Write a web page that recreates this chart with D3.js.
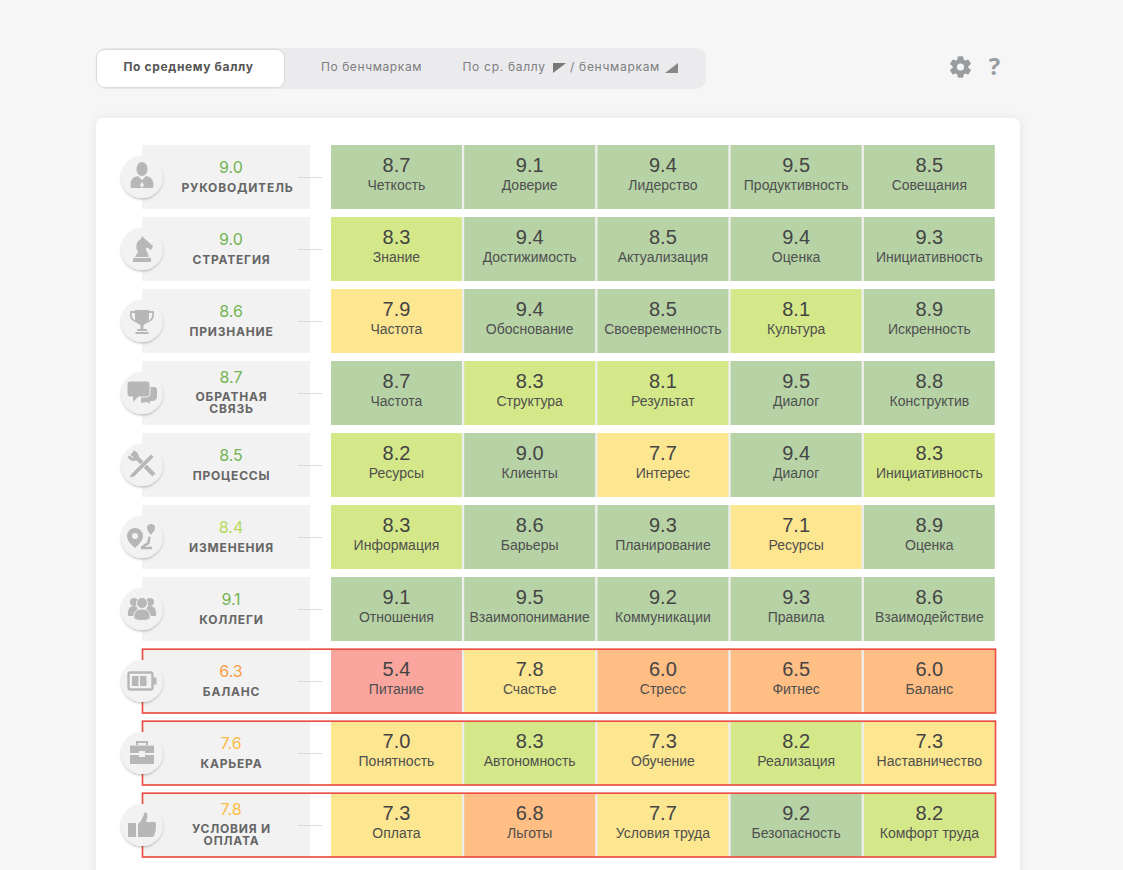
<!DOCTYPE html>
<html><head><meta charset="utf-8">
<script src="https://cdn.jsdelivr.net/npm/d3@7"></script>
<style>html,body{margin:0;padding:0;background:#f6f6f6;overflow:hidden}svg{display:block}</style>
</head><body><div id="c"></div>
<script>
const groupLabels=[["РУКОВОДИТЕЛЬ"],["СТРАТЕГИЯ"],["ПРИЗНАНИЕ"],["ОБРАТНАЯ","СВЯЗЬ"],["ПРОЦЕССЫ"],["ИЗМЕНЕНИЯ"],["КОЛЛЕГИ"],["БАЛАНС"],["КАРЬЕРА"],["УСЛОВИЯ И","ОПЛАТА"]];
const groupScores=[9.0,9.0,8.6,8.7,8.5,8.4,9.1,6.3,7.6,7.8];
const itemNames=[
["Четкость","Доверие","Лидерство","Продуктивность","Совещания"],
["Знание","Достижимость","Актуализация","Оценка","Инициативность"],
["Частота","Обоснование","Своевременность","Культура","Искренность"],
["Частота","Структура","Результат","Диалог","Конструктив"],
["Ресурсы","Клиенты","Интерес","Диалог","Инициативность"],
["Информация","Барьеры","Планирование","Ресурсы","Оценка"],
["Отношения","Взаимопонимание","Коммуникации","Правила","Взаимодействие"],
["Питание","Счастье","Стресс","Фитнес","Баланс"],
["Понятность","Автономность","Обучение","Реализация","Наставничество"],
["Оплата","Льготы","Условия труда","Безопасность","Комфорт труда"]];
const itemValues=[
[8.7,9.1,9.4,9.5,8.5],
[8.3,9.4,8.5,9.4,9.3],
[7.9,9.4,8.5,8.1,8.9],
[8.7,8.3,8.1,9.5,8.8],
[8.2,9.0,7.7,9.4,8.3],
[8.3,8.6,9.3,7.1,8.9],
[9.1,9.5,9.2,9.3,8.6],
[5.4,7.8,6.0,6.5,6.0],
[7.0,8.3,7.3,8.2,7.3],
[7.3,6.8,7.7,9.2,8.2]];
const flaggedRows=[7,8,9];
const tabs=["По среднему баллу","По бенчмаркам"];

const W=1123,H=870;
const svg=d3.select("#c").append("svg").attr("width",W).attr("height",H);
const defs=svg.append("defs");
const f1=defs.append("filter").attr("id","card").attr("x","-5%").attr("y","-5%").attr("width","110%").attr("height","110%");
f1.append("feDropShadow").attr("dx",0).attr("dy",0).attr("stdDeviation",5).attr("flood-color","#000").attr("flood-opacity",.07);
const f2=defs.append("filter").attr("id","circ").attr("x","-30%").attr("y","-30%").attr("width","160%").attr("height","160%");
f2.append("feDropShadow").attr("dx",0).attr("dy",1.5).attr("stdDeviation",1.2).attr("flood-color","#000").attr("flood-opacity",.22);
const f3=defs.append("filter").attr("id","tab").attr("x","-5%").attr("y","-20%").attr("width","110%").attr("height","140%");
f3.append("feDropShadow").attr("dx",0).attr("dy",0).attr("stdDeviation",1.2).attr("flood-color","#000").attr("flood-opacity",.2);

const UI="Inter, 'Noto Sans', sans-serif";
const CELL="'Liberation Sans', Arial, sans-serif";

svg.append("rect").attr("width",W).attr("height",H).attr("fill","#f6f6f6");

// tabs
svg.append("rect").attr("x",96).attr("y",48).attr("width",610).attr("height",41).attr("rx",10).attr("fill","#ebebed");
svg.append("rect").attr("x",97).attr("y",50).attr("width",187).attr("height",37).attr("rx",8).attr("fill","#fff").attr("filter","url(#tab)");
svg.append("text").attr("x",188.5).attr("y",71).attr("text-anchor","middle").attr("font-family",UI).attr("font-weight",700).attr("font-size",12).attr("letter-spacing",.65).attr("fill","#555").text(tabs[0]);
svg.append("text").attr("x",371.5).attr("y",71).attr("text-anchor","middle").attr("font-family",UI).attr("font-size",12).attr("letter-spacing",.6).attr("fill","#7d7d80").text(tabs[1]);
const t3=svg.append("g").attr("font-family",UI).attr("font-size",12).attr("letter-spacing",.7).attr("fill","#7d7d80");
t3.append("text").attr("x",462.5).attr("y",71).text("По ср. баллу");
t3.append("text").attr("x",570).attr("y",71).text("/ бенчмаркам");
svg.append("path").attr("d","M553 63H566L553 73Z").attr("fill","#777");
svg.append("path").attr("d","M665 73H678V63Z").attr("fill","#888");

// gear + question
const gear=svg.append("g").attr("transform","translate(960.5,67)").attr("fill","#9a9da0");
d3.range(6).forEach(i=>gear.append("rect").attr("x",-2.8).attr("y",-10.5).attr("width",5.6).attr("height",21).attr("rx",1).attr("transform",`rotate(${i*60})`));
gear.append("circle").attr("r",8);
gear.append("circle").attr("r",3.6).attr("fill","#f6f6f6");
svg.append("text").attr("x",994.5).attr("y",75).attr("text-anchor","middle").attr("font-family","'Open Sans', sans-serif").attr("font-weight",700).attr("font-size",24).attr("fill","#9a9da0").text("?");

// card
svg.append("rect").attr("x",96).attr("y",118).attr("width",924).attr("height",800).attr("rx",7).attr("fill","#fff").attr("filter","url(#card)");

const rows=d3.range(groupLabels.length), cols=d3.range(5);
const y=d3.scaleBand().domain(rows).range([145,857]).paddingInner(8/72);
const x=d3.scaleBand().domain(cols).range([331,994.8]).paddingInner(2.3/133);
const cellColor=d3.scaleThreshold().domain([6,7,8,8.5]).range(["#faa69f","#ffbe84","#fde690","#d5e889","#b7d3a6"]);
const scoreColor=d3.scaleThreshold().domain([7,8,8.5]).range(["#fb9d45","#fdbb45","#b6da5c","#72b554"]);

const row=svg.selectAll("g.row").data(rows).join("g").attr("class","row");
row.append("rect").attr("x",142).attr("y",r=>y(r)).attr("width",168).attr("height",y.bandwidth()).attr("fill","#f2f2f2");
row.append("line").attr("x1",298).attr("x2",322).attr("y1",r=>y(r)+32.5).attr("y2",r=>y(r)+32.5).attr("stroke","#dcdcdc").attr("stroke-width",1);

row.each(function(r){
  const g=d3.select(this);
  g.append("rect").attr("x",x(0)).attr("y",y(r)).attr("width",x(4)+x.bandwidth()-x(0)).attr("height",y.bandwidth()).attr("fill","#eeeeee");
  g.selectAll("rect.cell").data(cols).join("rect").attr("class","cell")
    .attr("x",c=>x(c)).attr("y",y(r)).attr("width",x.bandwidth()).attr("height",y.bandwidth())
    .attr("fill",c=>cellColor(itemValues[r][c]));
  g.selectAll("text.val").data(cols).join("text").attr("class","val")
    .attr("x",c=>x(c)+x.bandwidth()/2).attr("y",y(r)+27).attr("text-anchor","middle")
    .attr("font-family",CELL).attr("font-size",20).attr("fill","#444")
    .text(c=>itemValues[r][c].toFixed(1));
  g.selectAll("text.nm").data(cols).join("text").attr("class","nm")
    .attr("x",c=>x(c)+x.bandwidth()/2).attr("y",y(r)+45).attr("text-anchor","middle")
    .attr("font-family",CELL).attr("font-size",14).attr("fill","#4f4f4f")
    .text(c=>itemNames[r][c]);
  const two=groupLabels[r].length>1;
  g.append("text").attr("x",231).attr("y",y(r)+(two?22:28)).attr("text-anchor","middle")
    .attr("font-family",UI).attr("font-size",16).attr("fill",scoreColor(groupScores[r]))
    .text(groupScores[r].toFixed(1));
  groupLabels[r].forEach((l,i)=>{
    g.append("text").attr("x",r===0?237.5:231.5).attr("y",y(r)+(two?39.5+i*12:47)).attr("text-anchor","middle")
      .attr("font-family",UI).attr("font-weight",700).attr("font-size",12).attr("letter-spacing",.8).attr("fill","#666").text(l);
  });
});

// flagged outlines
svg.selectAll("rect.flag").data(flaggedRows).join("rect").attr("class","flag")
  .attr("x",142.5).attr("y",r=>y(r)+.2).attr("width",853).attr("height",y.bandwidth()-.2)
  .attr("fill","none").attr("stroke","#ea5046").attr("stroke-width",1.7);

// icons
const ic="#b7b7b7";
const icons=[
 g=>{g.append("ellipse").attr("cy",-8).attr("rx",5.5).attr("ry",7).attr("fill",ic);
     g.append("path").attr("d","M-11 11C-13 2-8 0-4 -1L0 3L4 -1C8 0 13 2 11 11Z").attr("fill",ic);
     g.append("path").attr("d","M0 5L2 8L0 11L-2 8Z").attr("fill","#f2f2f2");},
 g=>{g.append("path").attr("d","M-9 13H9V9H-9ZM-7 8H7L5 3C3 0 4-2 6-1L9 1L11-3L3-10L0-13L-1-10C-6-8-7-2-4 3Z").attr("fill",ic);},
 g=>{g.append("path").attr("d","M-7-11H7V-3C7 2 3 3 1.5 4V8H5V10H-5V8H-1.5V4C-3 3-7 2-7-3Z").attr("fill",ic);
     g.append("path").attr("d","M-7-9H-11C-12-3-9 0-5 1M7-9H11C12-3 9 0 5 1").attr("fill","none").attr("stroke",ic).attr("stroke-width",1.8);
     g.append("rect").attr("x",-6.5).attr("y",11).attr("width",13).attr("height",2).attr("fill",ic);},
 g=>{g.append("path").attr("d","M-1 3V10L5 9L8 11V8H10C13 8 15 6 15 4V-3C15-5 14-6 12-6H7V1Z").attr("fill",ic);
     g.append("rect").attr("x",-15).attr("y",-12).attr("width",23).attr("height",16).attr("rx",3).attr("fill",ic).attr("stroke","#f2f2f2");
     g.append("path").attr("d","M-9 3V9L-3 3Z").attr("fill",ic);},
 g=>{g.append("path").attr("d","M-10-12L12 10").attr("stroke",ic).attr("stroke-width",4.5).attr("fill","none");
     g.append("path").attr("d","M-13-9A5 5 0 0 0-6-6M-9-13A5 5 0 0 1-5-6").attr("stroke",ic).attr("stroke-width",3).attr("fill","none");
     g.append("path").attr("d","M-11 9L9-11L12-8L-8 12L-13 13Z").attr("fill",ic).attr("stroke","#f2f2f2").attr("stroke-width",.8);},
 g=>{g.append("path").attr("fill",ic).attr("fill-rule","evenodd").attr("d","M-7-9A8 8 0 0 1 1-1C1 4-3 7-7 11C-11 7-15 4-15-1A8 8 0 0 1-7-9ZM-7-4A3 3 0 1 0-7 2A3 3 0 1 0-7-4Z");
     g.append("path").attr("d","M9-13A4 4 0 0 1 13-9C13-6 10-4 9-2C8-4 5-6 5-9A4 4 0 0 1 9-13Z").attr("fill",ic);
     g.append("path").attr("d","M8 0C5 3 9 5 5 7C2 8 2 10-1 11H10").attr("fill","none").attr("stroke",ic).attr("stroke-width",2.6);},
 g=>{g.append("circle").attr("cx",-8).attr("cy",-7).attr("r",4).attr("fill",ic);
     g.append("circle").attr("cx",8).attr("cy",-7).attr("r",4).attr("fill",ic);
     g.append("path").attr("d","M-14 7C-15-1-11-3-8-3C-4-3-3 2-4 7ZM14 7C15-1 11-3 8-3C4-3 3 2 4 7Z").attr("fill",ic);
     g.append("circle").attr("cy",-6).attr("r",5.5).attr("fill",ic).attr("stroke","#f2f2f2");
     g.append("path").attr("d","M-8 10C-9 2-5 0 0 0C5 0 9 2 8 10C4 12-4 12-8 10Z").attr("fill",ic).attr("stroke","#f2f2f2");},
 g=>{g.append("rect").attr("x",-13.5).attr("y",-8.5).attr("width",24).attr("height",17).attr("rx",2).attr("fill","none").attr("stroke",ic).attr("stroke-width",2.4);
     g.append("rect").attr("x",-10).attr("y",-5).attr("width",6.5).attr("height",10).attr("fill",ic);
     g.append("rect").attr("x",-2).attr("y",-5).attr("width",6.5).attr("height",10).attr("fill",ic);
     g.append("rect").attr("x",11).attr("y",-3.5).attr("width",3.5).attr("height",7).attr("fill",ic);},
 g=>{g.append("path").attr("d","M-5-8V-11H5V-8").attr("fill","none").attr("stroke",ic).attr("stroke-width",2);
     g.append("path").attr("d","M-12-7.5H12V0H3V-2H-3V0H-12Z").attr("fill",ic);
     g.append("path").attr("d","M-12 2H-3V4H3V2H12V11H-12Z").attr("fill",ic);},
 g=>{g.append("rect").attr("x",-14).attr("y",-2).attr("width",8).attr("height",14).attr("fill",ic);
     g.append("path").attr("d","M-4 12V-1C0-4 1-9 3-13C6-13 6-8 4-3H13C15-3 14 10 11 12Z").attr("fill",ic);}
];
rows.forEach(r=>{
  const g=svg.append("g").attr("transform",`translate(142,${y(r)+32})`);
  g.append("circle").attr("r",21).attr("fill","#f2f2f2").attr("filter","url(#circ)");
  icons[r](g);
});
</script></body></html>
